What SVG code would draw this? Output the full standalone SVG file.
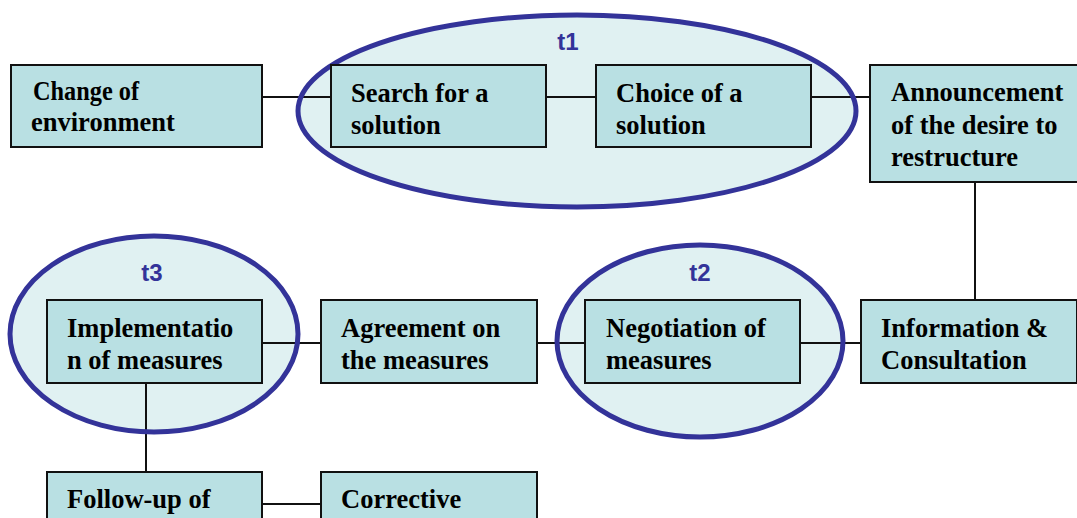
<svg xmlns="http://www.w3.org/2000/svg" width="1077" height="518" viewBox="0 0 1077 518">
<style>
.box{fill:#b9e0e3;stroke:#111;stroke-width:2}
.lbl{font-family:"Liberation Serif","Times New Roman",serif;font-weight:bold;font-size:26.5px;fill:#000}
.grp{fill:#e0f1f2;stroke:none}
.ring{fill:none;stroke:#333399;stroke-width:5}
.tl{font-family:"Liberation Sans",Arial,sans-serif;font-weight:bold;font-size:24px;fill:#333399;text-anchor:middle}
.conn{stroke:#111;stroke-width:2;fill:none}
</style>
<rect width="1077" height="518" fill="#fff"/>
<g id="group-fills">
<ellipse class="grp" cx="577" cy="111" rx="279" ry="96"/>
<ellipse class="grp" cx="154" cy="334" rx="144" ry="98"/>
<ellipse class="grp" cx="700" cy="341" rx="143" ry="96"/>
</g>
<g id="connectors">
<line class="conn" x1="262" y1="97" x2="331" y2="97"/>
<line class="conn" x1="546" y1="97" x2="596" y2="97"/>
<line class="conn" x1="811" y1="97" x2="870" y2="97"/>
<line class="conn" x1="975" y1="182" x2="975" y2="300"/>
<line class="conn" x1="800" y1="343" x2="861" y2="343"/>
<line class="conn" x1="537" y1="343" x2="585" y2="343"/>
<line class="conn" x1="262" y1="343" x2="321" y2="343"/>
<line class="conn" x1="146" y1="383" x2="146" y2="472"/>
<line class="conn" x1="262" y1="504" x2="321" y2="504"/>
</g>
<g id="t1">
<ellipse class="ring" cx="577" cy="111" rx="279" ry="96"/>
<text class="tl" x="568" y="50">t1</text>
</g>
<g id="t3">
<ellipse class="ring" cx="154" cy="334" rx="144" ry="98"/>
<text class="tl" x="152" y="281">t3</text>
</g>
<g id="t2">
<ellipse class="ring" cx="700" cy="341" rx="143" ry="96"/>
<text class="tl" x="700" y="281">t2</text>
</g>
<g id="change">
<rect class="box" x="11" y="65" width="251" height="82"/>
<text class="lbl" x="33" y="100" textLength="106" lengthAdjust="spacingAndGlyphs">Change of</text>
<text class="lbl" x="31" y="131">environment</text>
</g>
<g id="search">
<rect class="box" x="331" y="65" width="215" height="82"/>
<text class="lbl" x="351" y="102">Search for a</text>
<text class="lbl" x="351" y="134">solution</text>
</g>
<g id="choice">
<rect class="box" x="596" y="65" width="215" height="82"/>
<text class="lbl" x="616" y="102">Choice of a</text>
<text class="lbl" x="616" y="134">solution</text>
</g>
<g id="announcement">
<rect class="box" x="870" y="65" width="215" height="117"/>
<text class="lbl" x="891" y="101">Announcement</text>
<text class="lbl" x="891" y="134">of the desire to</text>
<text class="lbl" x="891" y="166">restructure</text>
</g>
<g id="information">
<rect class="box" x="861" y="300" width="216" height="83"/>
<text class="lbl" x="881" y="337">Information &amp;</text>
<text class="lbl" x="881" y="369">Consultation</text>
</g>
<g id="negotiation">
<rect class="box" x="585" y="300" width="215" height="83"/>
<text class="lbl" x="606" y="337">Negotiation of</text>
<text class="lbl" x="606" y="369">measures</text>
</g>
<g id="agreement">
<rect class="box" x="321" y="300" width="216" height="83"/>
<text class="lbl" x="341" y="337">Agreement on</text>
<text class="lbl" x="341" y="369">the measures</text>
</g>
<g id="implementation">
<rect class="box" x="47" y="300" width="215" height="83"/>
<text class="lbl" x="67" y="337">Implementatio</text>
<text class="lbl" x="67" y="369">n of measures</text>
</g>
<g id="followup">
<rect class="box" x="47" y="472" width="215" height="60"/>
<text class="lbl" x="67" y="508">Follow-up of</text>
</g>
<g id="corrective">
<rect class="box" x="321" y="472" width="216" height="60"/>
<text class="lbl" x="341" y="508">Corrective</text>
</g>
</svg>
